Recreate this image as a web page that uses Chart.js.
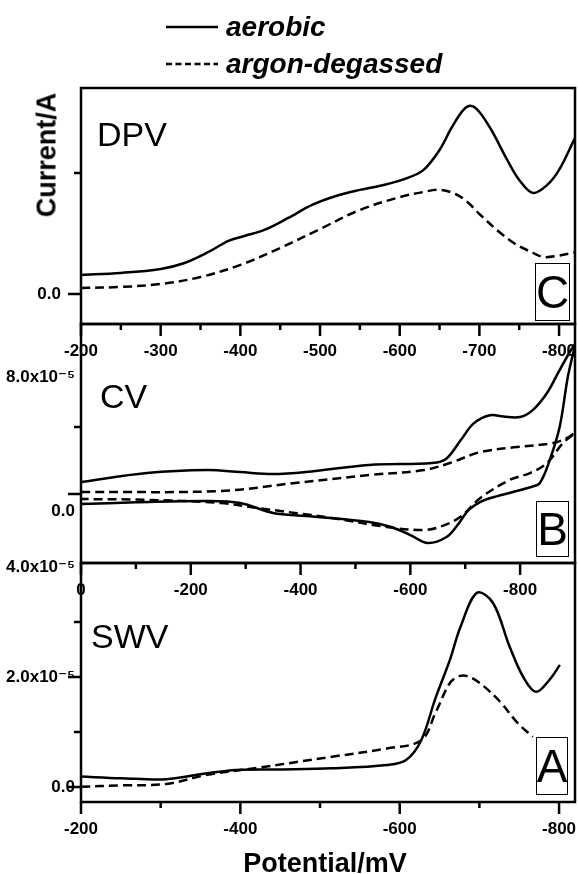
<!DOCTYPE html>
<html>
<head>
<meta charset="utf-8">
<script src="https://cdn.jsdelivr.net/npm/chart.js@4.4.1/dist/chart.umd.min.js"></script>
<style>
html,body{margin:0;padding:0;background:#fff;}
#wrap{position:relative;width:578px;height:874px;overflow:hidden;background:#fff;font-family:"Liberation Sans",Arial,Helvetica,sans-serif;color:#000;}
canvas{position:absolute;left:0;top:0;}
.leg{position:absolute;display:flex;align-items:center;font-weight:bold;font-style:italic;font-size:28px;line-height:1;white-space:nowrap;height:30px;}
.leg svg{margin-right:8px;flex:none;}
.panel{position:absolute;font-size:34px;line-height:1;white-space:nowrap;}
.box{position:absolute;border:1.5px solid #000;box-sizing:border-box;overflow:hidden;}
.box span{position:absolute;left:-4px;right:-4px;top:50%;text-align:center;font-size:46px;line-height:1;transform:translateY(-50%);}
.title{position:absolute;font-weight:bold;font-size:27px;line-height:1;white-space:nowrap;}
</style>
</head>
<body>
<div id="wrap">
  <canvas id="cDPV" width="578" height="874"></canvas>
  <canvas id="cCV" width="578" height="874"></canvas>
  <canvas id="cSWV" width="578" height="874"></canvas>

  <div class="leg" style="left:166px;top:12px;"><svg width="52" height="10"><line x1="0" y1="5" x2="52" y2="5" stroke="#000" stroke-width="2.5"/></svg><span id="leg1"></span></div>
  <div class="leg" style="left:166px;top:49px;"><svg width="52" height="10"><line x1="0" y1="5" x2="52" y2="5" stroke="#000" stroke-width="2.5" stroke-dasharray="6 3.5"/></svg><span id="leg2"></span></div>

  <div class="title" style="left:47px;top:155px;transform:translate(-50%,-50%) rotate(-90deg);">Current/A</div>
  <div class="title" style="left:325px;top:863px;transform:translate(-50%,-50%);">Potential/mV</div>

  <div class="panel" style="left:97px;top:117px;">DPV</div>
  <div class="panel" style="left:100px;top:379px;">CV</div>
  <div class="panel" style="left:91px;top:619px;">SWV</div>

  <div class="box" style="left:535px;top:263px;width:35px;height:58px;"><span>C</span></div>
  <div class="box" style="left:536px;top:501px;width:33px;height:56px;"><span>B</span></div>
  <div class="box" style="left:536px;top:737px;width:32px;height:58px;"><span>A</span></div>
</div>
<script>
// ---------------- DATA ----------------
const seriesNames = ['aerobic', 'argon-degassed'];

// DPV (panel C), current in arbitrary units (tick at 1 unlabeled)
const dpvPotentialAerobic = [-200,-250,-300,-330,-360,-385,-405,-430,-460,-490,-520,-550,-580,-610,-630,-650,-665,-680,-690,-700,-715,-735,-750,-767,-785,-800,-820];
const dpvCurrentAerobic   = [0.157,0.174,0.207,0.256,0.347,0.438,0.479,0.529,0.628,0.736,0.81,0.86,0.90,0.959,1.025,1.19,1.372,1.521,1.554,1.504,1.355,1.107,0.942,0.835,0.90,1.025,1.29];
const dpvPotentialArgon   = [-200,-250,-300,-350,-400,-450,-500,-550,-600,-630,-650,-670,-685,-700,-725,-745,-765,-780,-797,-820];
const dpvCurrentArgon     = [0.05,0.058,0.083,0.14,0.24,0.38,0.537,0.694,0.80,0.843,0.86,0.826,0.76,0.661,0.512,0.413,0.347,0.306,0.314,0.345];

// CV (panel B), current in units of 1e-5 A; closed loops (forward then reverse sweep)
const cvPotentialAerobic = [0,-120,-230,-290,-350,-410,-525,-640,-665,-692,-715,-745,-770,-800,-823,-849,-872,-900,-887,-872,-854,-836,-820,-787,-746,-727,-706,-685,-666,-632,-600,-565,-525,-410,-350,-290,-230,-100,0];
const cvCurrentAerobic   = [0.72,1.25,1.43,1.31,1.19,1.31,1.73,1.85,2.09,3.22,4.2,4.7,4.62,4.6,5.01,6.03,7.4,8.9,7.0,4.0,2.03,0.66,0.42,0.12,-0.24,-0.48,-0.96,-1.9,-2.57,-2.93,-2.45,-1.97,-1.67,-1.31,-1.13,-0.54,-0.42,-0.5,-0.6];
const cvPotentialArgon   = [0,-255,-390,-525,-625,-672,-727,-794,-860,-885,-900,-878,-849,-818,-781,-727,-692,-659,-625,-557,-457,-322,-255,-120,0];
const cvCurrentArgon     = [0.12,0.18,0.66,1.13,1.43,1.85,2.5,2.8,3.04,3.34,3.64,3.04,1.85,1.25,0.84,-0.25,-1.35,-1.9,-2.15,-1.97,-1.43,-0.84,-0.54,-0.35,-0.3];

// SWV (panel A), current in units of 1e-5 A
const swvPotentialAerobic = [-200,-250,-307,-358,-395,-450,-515,-584,-608,-627,-645,-663,-676,-697,-717,-738,-755,-771,-788,-801];
const swvCurrentAerobic   = [0.19,0.16,0.14,0.25,0.31,0.32,0.34,0.40,0.49,0.85,1.62,2.31,2.9,3.53,3.35,2.55,2.0,1.73,1.95,2.22];
const swvPotentialArgon   = [-200,-250,-307,-358,-422,-515,-584,-627,-645,-663,-676,-688,-704,-726,-747,-767];
const swvCurrentArgon     = [0.005,0.03,0.055,0.22,0.35,0.55,0.70,0.85,1.35,1.89,2.02,2.0,1.85,1.55,1.18,0.91];

// Tick labels
const dpvXLabels = [-200,-300,-400,-500,-600,-700,-800];
const dpvYLabelValues = [0];
const dpvYLabelText = ['0.0'];
const cvXLabels = [0,-200,-400,-600,-800];
const cvYLabelValues = [8,0];
const cvYLabelText = ['8.0x10\u207B\u2075','0.0'];
const swvXLabels = [-200,-400,-600,-800];
const swvYLabelValues = [0,2,4];
const swvYLabelText = ['0.0','2.0x10\u207B\u2075','4.0x10\u207B\u2075'];

// ---------------- RENDER ----------------
document.getElementById('leg1').textContent = seriesNames[0];
document.getElementById('leg2').textContent = seriesNames[1];

const FONT = "'Liberation Sans', Arial, 'DejaVu Sans', sans-serif";
const pts = (xs, ys) => xs.map((x, i) => ({x: x, y: ys[i]}));
const solid = (name, xs, ys) => ({label: name, data: pts(xs, ys), borderColor:'#000', borderWidth:2.5, tension:0.35, fill:false, pointRadius:0});
const dashed = (name, xs, ys) => Object.assign(solid(name, xs, ys), {borderDash:[9,5]});

const frameTicks = {
  id: 'frameTicks',
  afterDraw(chart, args, o) {
    const ctx = chart.ctx, a = chart.chartArea, x = chart.scales.x, y = chart.scales.y;
    ctx.save();
    ctx.strokeStyle = '#000';
    ctx.lineWidth = 2.5;
    ctx.strokeRect(a.left, a.top, a.right - a.left, a.bottom - a.top);
    ctx.beginPath();
    const xt = (vals, len) => (vals || []).forEach(v => { const p = x.getPixelForValue(v); ctx.moveTo(p, a.bottom); ctx.lineTo(p, a.bottom + len); });
    const yt = (vals, len) => (vals || []).forEach(v => { const p = y.getPixelForValue(v); ctx.moveTo(a.left, p); ctx.lineTo(a.left - len, p); });
    xt(o.xMajor, 12); xt(o.xMinor, 6); yt(o.yMajor, 13); yt(o.yMinor, 7);
    ctx.stroke();
    ctx.restore();
  }
};

function panel(id, cfg) {
  return new Chart(document.getElementById(id), {
    type: 'line',
    data: {datasets: cfg.datasets},
    options: {
      responsive: false, animation: false, devicePixelRatio: 1,
      layout: {padding: {left: 0, right: 3, top: cfg.top, bottom: 874 - cfg.bottom - 40}},
      plugins: {legend: {display: false}, tooltip: {enabled: false}, frameTicks: cfg.marks},
      scales: {
        x: {
          type: 'linear', min: cfg.xMin, max: cfg.xMax, reverse: true,
          grid: {display: false, drawTicks: false}, border: {display: false},
          afterBuildTicks(s) { s.ticks = cfg.xLabels.map(v => ({value: v})); },
          afterFit(s) { s.height = 40; s.paddingLeft = 0; s.paddingRight = 0; },
          ticks: {autoSkip: false, maxRotation: 0, minRotation: 0, padding: 17, color: '#000',
                  font: {family: FONT, size: 17, weight: 'bold'}, callback: v => String(v)}
        },
        y: {
          type: 'linear', min: cfg.yMin, max: cfg.yMax,
          grid: {display: false, drawTicks: false}, border: {display: false},
          afterBuildTicks(s) { s.ticks = cfg.yLabelValues.map(v => ({value: v})); },
          afterFit(s) { s.width = 81; s.paddingTop = 0; s.paddingBottom = 0; },
          ticks: {autoSkip: false, padding: cfg.yPad, labelOffset: cfg.yLabelOffset || 0, color: '#000',
                  font: {family: FONT, size: 17, weight: 'bold'}, callback: (v, i) => cfg.yLabelText[i]}
        }
      }
    },
    plugins: [frameTicks]
  });
}

panel('cDPV', {
  top: 88, bottom: 324, xMin: -820, xMax: -200, yMin: -0.248, yMax: 1.702,
  xLabels: dpvXLabels, yLabelValues: dpvYLabelValues, yLabelText: dpvYLabelText, yPad: 20,
  marks: {xMajor: [-200,-300,-400,-500,-600,-700,-800], xMinor: [-250,-350,-450,-550,-650,-750], yMajor: [0], yMinor: [1]},
  datasets: [solid(seriesNames[0], dpvPotentialAerobic, dpvCurrentAerobic), dashed(seriesNames[1], dpvPotentialArgon, dpvCurrentArgon)]
});

panel('cCV', {
  top: 324, bottom: 563, xMin: -900, xMax: 0, yMin: -4.12, yMax: 10.15,
  xLabels: cvXLabels, yLabelValues: cvYLabelValues, yLabelText: cvYLabelText, yPad: 6, yLabelOffset: 17,
  marks: {xMajor: [0,-200,-400,-600,-800], xMinor: [-100,-300,-500,-700], yMajor: [0], yMinor: [4]},
  datasets: [solid(seriesNames[0], cvPotentialAerobic, cvCurrentAerobic), dashed(seriesNames[1], cvPotentialArgon, cvCurrentArgon)]
});

panel('cSWV', {
  top: 563, bottom: 802, xMin: -820, xMax: -200, yMin: -0.273, yMax: 4.073,
  xLabels: swvXLabels, yLabelValues: swvYLabelValues, yLabelText: swvYLabelText, yPad: 6,
  marks: {xMajor: [-200,-400,-600,-800], xMinor: [-300,-500,-700], yMajor: [0,2], yMinor: [1,3]},
  datasets: [solid(seriesNames[0], swvPotentialAerobic, swvCurrentAerobic), dashed(seriesNames[1], swvPotentialArgon, swvCurrentArgon)]
});
</script>
</body>
</html>
